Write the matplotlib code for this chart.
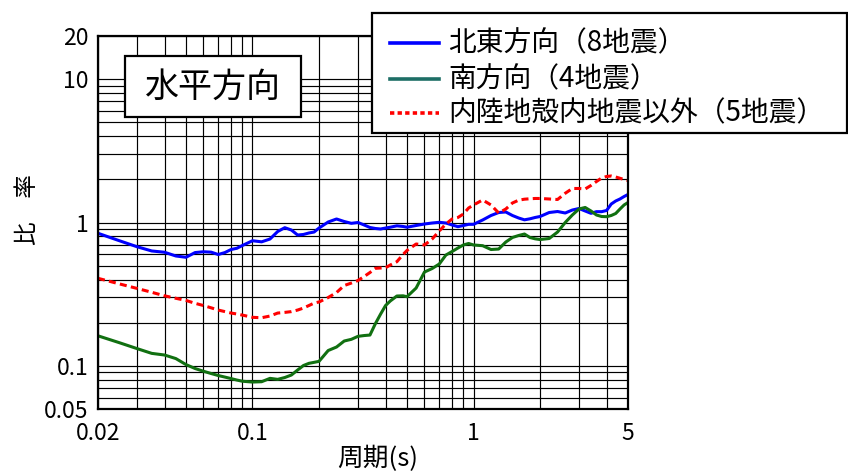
"""水平方向の比率 — 北東方向・南方向・内陸地殻内地震以外の周期別比較."""
import matplotlib
matplotlib.use("Agg")
import matplotlib.pyplot as plt  # noqa: E402
import numpy as np  # noqa: E402
from matplotlib.lines import Line2D  # noqa: E402
from matplotlib.patches import Rectangle  # noqa: E402
from matplotlib.ticker import LogLocator, NullFormatter  # noqa: E402

plt.rcParams["font.family"] = ["Noto Sans CJK JP", "DejaVu Sans"]

W, H = 848, 472
BLUE, GREEN, RED = "#0000ff", "#117011", "#ff0000"
TEAL = "#1d6e66"

period = [0.02, 0.025, 0.03, 0.035, 0.04, 0.045, 0.05, 0.055, 0.06, 0.065,
          0.07, 0.075, 0.08, 0.085, 0.09, 0.1, 0.11, 0.12, 0.13, 0.14, 0.15,
          0.16, 0.17, 0.18, 0.19, 0.2, 0.22, 0.24, 0.26, 0.28, 0.3, 0.32,
          0.34, 0.36, 0.38, 0.4, 0.42, 0.45, 0.48, 0.5, 0.55, 0.6, 0.65,
          0.7, 0.75, 0.8, 0.85, 0.9, 0.95, 1.0, 1.1, 1.2, 1.3, 1.4, 1.5,
          1.6, 1.7, 1.8, 1.9, 2.0, 2.2, 2.4, 2.6, 2.8, 3.0, 3.2, 3.4, 3.6,
          3.8, 4.0, 4.2, 4.4, 4.6, 4.8, 5.0]

# 北東方向（8地震）
ratio_ne = [0.841, 0.746, 0.678, 0.633, 0.620, 0.584, 0.572, 0.617, 0.625,
            0.621, 0.598, 0.617, 0.648, 0.661, 0.691, 0.746, 0.733, 0.767,
            0.865, 0.920, 0.886, 0.818, 0.825, 0.845, 0.858, 0.915, 1.008,
            1.058, 1.016, 0.987, 1.000, 0.961, 0.923, 0.908, 0.901, 0.915,
            0.927, 0.948, 0.938, 0.927, 0.953, 0.976, 0.992, 1.003, 0.992,
            0.961, 0.935, 0.953, 0.971, 0.971, 1.041, 1.119, 1.174, 1.184,
            1.119, 1.075, 1.044, 1.061, 1.084, 1.101, 1.174, 1.193, 1.165,
            1.222, 1.252, 1.203, 1.159, 1.190, 1.190, 1.213, 1.346, 1.413,
            1.459, 1.518, 1.568]

# 南方向（4地震）
ratio_s = [0.162, 0.145, 0.132, 0.1222, 0.119, 0.1124, 0.1021, 0.0958,
           0.0917, 0.0884, 0.0856, 0.0835, 0.0815, 0.0796, 0.0781, 0.0771,
           0.0775, 0.0818, 0.0805, 0.0829, 0.0863, 0.0935, 0.1005, 0.1041,
           0.1058, 0.1075, 0.1279, 0.1353, 0.149, 0.1531, 0.1606, 0.1627,
           0.164, 0.1973, 0.2299, 0.2635, 0.2833, 0.307, 0.308, 0.3035,
           0.349, 0.4514, 0.4775, 0.5134, 0.593, 0.6275, 0.6637, 0.697,
           0.7137, 0.697, 0.6889, 0.648, 0.653, 0.731, 0.786, 0.8115, 0.831,
           0.786, 0.7694, 0.7608, 0.7733, 0.858, 1.0, 1.128, 1.242, 1.273,
           1.203, 1.128, 1.101, 1.098, 1.119, 1.156, 1.242, 1.325, 1.379]

# 内陸地殻内地震以外（5地震）
ratio_other = [0.408, 0.373, 0.347, 0.326, 0.308, 0.296, 0.286, 0.273,
               0.2635, 0.254, 0.245, 0.239, 0.2335, 0.230, 0.226, 0.218,
               0.2166, 0.2226, 0.2335, 0.236, 0.239, 0.245, 0.253, 0.2635,
               0.274, 0.279, 0.2997, 0.3247, 0.3634, 0.378, 0.3938, 0.42,
               0.4478, 0.479, 0.4815, 0.4838, 0.505, 0.5326, 0.598, 0.638,
               0.708, 0.697, 0.767, 0.872, 0.976, 1.058, 1.084, 1.146, 1.262,
               1.325, 1.436, 1.325, 1.165, 1.242, 1.368, 1.431, 1.454, 1.464,
               1.471, 1.471, 1.459, 1.447, 1.599, 1.727, 1.727, 1.713, 1.813,
               1.932, 2.044, 2.094, 2.111, 2.077, 2.034, 1.996, 1.964]

x_ticks = [0.02, 0.1, 1, 5]
x_ticklabels = ["0.02", "0.1", "1", "5"]
y_ticks = [0.05, 0.1, 1, 10, 20]
y_ticklabels = ["0.05", "0.1", "1", "10", "20"]

legend_labels = ["北東方向（8地震）", "南方向（4地震）", "内陸地殻内地震以外（5地震）"]


def fx(px):
    return px / W


def fy(py):
    return 1 - py / H


fig = plt.figure(figsize=(W / 100, H / 100), dpi=100)
ax = fig.add_axes([fx(98), fy(409), fx(628) - fx(98), fy(36) - fy(409)])
ax.set_xscale("log")
ax.set_yscale("log")
ax.set_xlim(0.02, 5)
ax.set_ylim(0.05, 20)

ax.plot(period, ratio_ne, color=BLUE, lw=2.2, zorder=3)
ax.plot(period, ratio_s, color=GREEN, lw=2.2, zorder=3)
ax.plot(period, ratio_other, color=RED, lw=2.2, ls=(0, (2.3, 1.4)), zorder=3)

ax.set_xticks(x_ticks, x_ticklabels)
ax.set_yticks(y_ticks, y_ticklabels)
sub = np.arange(1, 10)
ax.xaxis.set_minor_locator(LogLocator(base=10, subs=sub, numticks=20))
ax.yaxis.set_minor_locator(LogLocator(base=10, subs=sub, numticks=20))
ax.xaxis.set_minor_formatter(NullFormatter())
ax.yaxis.set_minor_formatter(NullFormatter())
ax.tick_params(which="both", length=0, labelsize=16.5)
ax.tick_params(axis="y", pad=7)
ax.tick_params(axis="x", pad=9)
ax.grid(True, which="both", color="black", lw=0.85, zorder=1)
ax.set_axisbelow(True)
for sp in ax.spines.values():
    sp.set_linewidth(1.6)
    sp.set_zorder(5)

# 軸ラベル
fig.text(fx(27), fy(210), "比　率", rotation=90, fontsize=17,
         ha="center", va="center")
fig.text(fx(378), fy(459), "周期(s)", fontsize=18.5, ha="center", va="center")

# タイトル枠
fig.patches.append(Rectangle((fx(125), fy(117)), fx(301) - fx(125),
                             fy(56) - fy(117), transform=fig.transFigure,
                             facecolor="white", edgecolor="black", lw=1.6,
                             zorder=6))
fig.text(fx(213), fy(87), "水平方向", fontsize=24.5, ha="center", va="center",
         zorder=7)

# 凡例（手描き）
fig.patches.append(Rectangle((fx(372), fy(133)), fx(847) - fx(372),
                             fy(13) - fy(133), transform=fig.transFigure,
                             facecolor="white", edgecolor="black", lw=1.6,
                             zorder=6))
rows = [43, 79, 113]
styles = [dict(color=BLUE, ls="-"), dict(color=TEAL, ls="-"),
          dict(color=RED, ls=(0, (1.2, 0.9)))]
for row, lab, st in zip(rows, legend_labels, styles):
    fig.lines.append(Line2D([fx(390), fx(439)], [fy(row), fy(row)],
                            transform=fig.transFigure, lw=2.6, zorder=7,
                            **st))
    fig.text(fx(448), fy(row), lab, fontsize=20, ha="left", va="center",
             zorder=7)

fig.savefig("out.png", facecolor="white")
